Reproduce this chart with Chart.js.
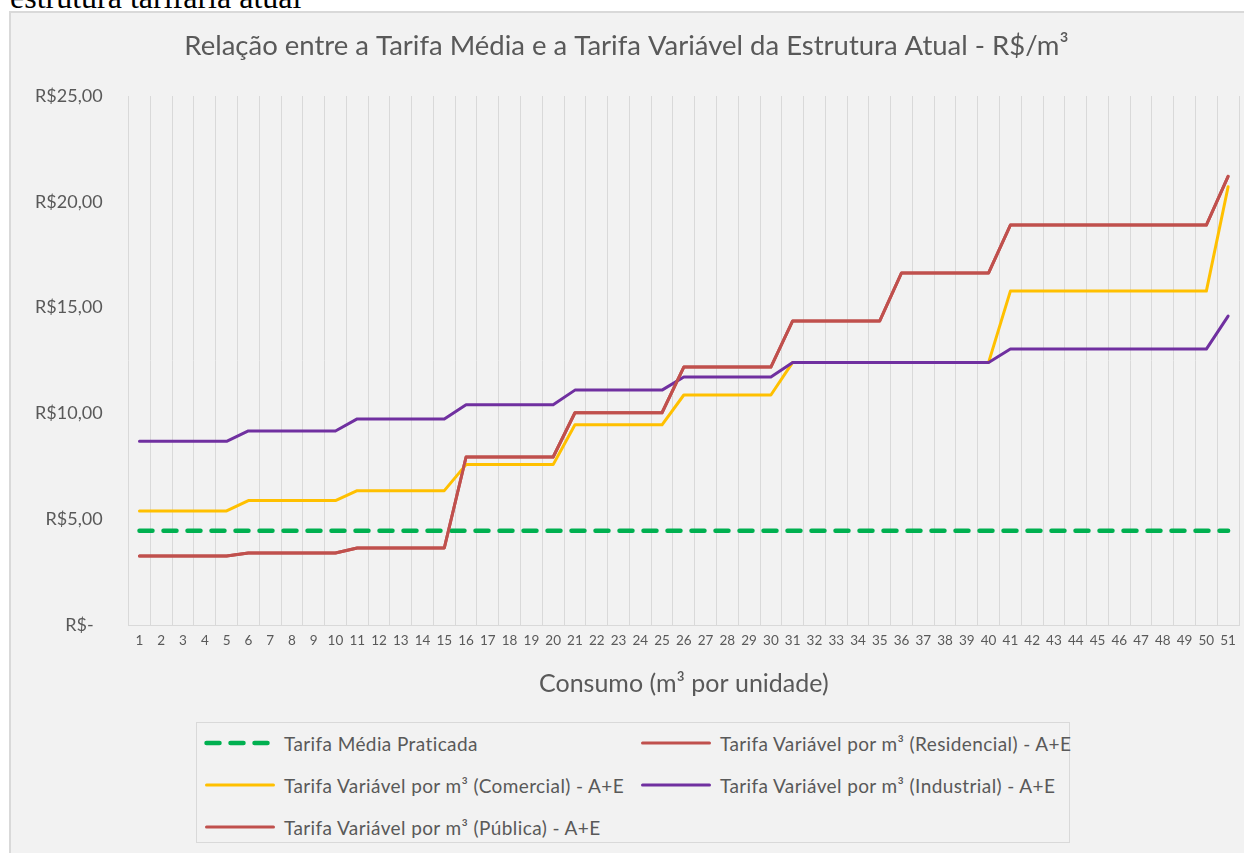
<!DOCTYPE html>
<html>
<head>
<meta charset="utf-8">
<script src="https://cdn.jsdelivr.net/npm/chart.js@4.4.1/dist/chart.umd.min.js"></script>
<style>
  body { margin: 0; background: #ffffff; width: 1244px; height: 853px; overflow: hidden; position: relative; }
  #caption { position: absolute; left: 10px; top: -19px; font-family: "Liberation Serif", serif; font-size: 32px; line-height: 32px; color: #000; white-space: nowrap; }
  #frame { position: absolute; left: 9px; top: 11px; width: 1260px; height: 900px; background: #f2f2f2; border: 2px solid #d9d9d9; box-sizing: border-box; }
  #wrap { position: absolute; left: 0; top: 0; width: 1244px; height: 712px; }
  #legend { position: absolute; left: 196px; top: 722px; width: 874px; height: 121px; border: 1px solid #d9d9d9; box-sizing: border-box; }
  .item { position: absolute; height: 20px; display: flex; align-items: center; font-family: Lato, sans-serif; font-size: 19px; letter-spacing: 0.4px; color: #595959; white-space: nowrap; }
  .item svg { margin-right: 8px; }
</style>
</head>
<body>
<div id="caption">estrutura tarifária atual</div>
<div id="frame"></div>
<div id="wrap"><canvas id="chart"></canvas></div>
<div id="legend"></div>
<script>
const consumo = ['1','2','3','4','5','6','7','8','9','10','11','12','13','14','15','16','17','18','19','20',
  '21','22','23','24','25','26','27','28','29','30','31','32','33','34','35','36','37','38','39','40',
  '41','42','43','44','45','46','47','48','49','50','51'];

const tarifaMedia = [4.46,4.46,4.46,4.46,4.46,4.46,4.46,4.46,4.46,4.46,4.46,4.46,4.46,4.46,4.46,4.46,4.46,
  4.46,4.46,4.46,4.46,4.46,4.46,4.46,4.46,4.46,4.46,4.46,4.46,4.46,4.46,4.46,4.46,4.46,4.46,4.46,4.46,
  4.46,4.46,4.46,4.46,4.46,4.46,4.46,4.46,4.46,4.46,4.46,4.46,4.46,4.46];

const residencial = [3.26,3.26,3.26,3.26,3.26, 3.40,3.40,3.40,3.40,3.40, 3.64,3.64,3.64,3.64,3.64,
  7.94,7.94,7.94,7.94,7.94, 10.03,10.03,10.03,10.03,10.03, 12.19,12.19,12.19,12.19,12.19,
  14.37,14.37,14.37,14.37,14.37, 16.64,16.64,16.64,16.64,16.64,
  18.90,18.90,18.90,18.90,18.90,18.90,18.90,18.90,18.90,18.90, 21.20];

const comercial = [5.39,5.39,5.39,5.39,5.39, 5.88,5.88,5.88,5.88,5.88, 6.35,6.35,6.35,6.35,6.35,
  7.58,7.58,7.58,7.58,7.58, 9.46,9.46,9.46,9.46,9.46, 10.87,10.87,10.87,10.87,10.87,
  12.41,12.41,12.41,12.41,12.41,12.41,12.41,12.41,12.41,12.41,
  15.78,15.78,15.78,15.78,15.78,15.78,15.78,15.78,15.78,15.78, 20.71];

const industrial = [8.68,8.68,8.68,8.68,8.68, 9.17,9.17,9.17,9.17,9.17, 9.74,9.74,9.74,9.74,9.74,
  10.41,10.41,10.41,10.41,10.41, 11.10,11.10,11.10,11.10,11.10, 11.72,11.72,11.72,11.72,11.72,
  12.41,12.41,12.41,12.41,12.41,12.41,12.41,12.41,12.41,12.41,
  13.04,13.04,13.04,13.04,13.04,13.04,13.04,13.04,13.04,13.04, 14.60];

const publica = [3.26,3.26,3.26,3.26,3.26, 3.40,3.40,3.40,3.40,3.40, 3.64,3.64,3.64,3.64,3.64,
  7.94,7.94,7.94,7.94,7.94, 10.03,10.03,10.03,10.03,10.03, 12.19,12.19,12.19,12.19,12.19,
  14.37,14.37,14.37,14.37,14.37, 16.64,16.64,16.64,16.64,16.64,
  18.90,18.90,18.90,18.90,18.90,18.90,18.90,18.90,18.90,18.90, 21.20];

const yTicks = [0, 5, 10, 15, 20, 25];

const textColor = '#595959';

function lineSet(label, data, color, order) {
    return {
        label: label,
        data: data,
        borderColor: color,
        backgroundColor: color,
        borderWidth: 3,
        pointRadius: 0,
        tension: 0,
        borderJoinStyle: 'round',
        borderCapStyle: 'round',
        order: order
    };
}

const mediaSet = lineSet('Tarifa Média Praticada', tarifaMedia, '#00b050', 4);
mediaSet.borderWidth = 4.5;
mediaSet.borderDash = [13, 11];

const datasets = [
    mediaSet,
    lineSet('Tarifa Variável por m³ (Residencial) - A+E', residencial, '#c0504d', 3),
    lineSet('Tarifa Variável por m³ (Comercial) - A+E', comercial, '#ffc000', 2),
    lineSet('Tarifa Variável por m³ (Industrial) - A+E', industrial, '#7030a0', 1),
    lineSet('Tarifa Variável por m³ (Pública) - A+E', publica, '#c0504d', 0)
];

function reais(v) {
    if (v === 0) return 'R$-\u2002';
    return 'R$' + v.toFixed(2).replace('.', ',');
}

const ctx = document.getElementById('chart').getContext('2d');
const chart = new Chart(ctx, {
    type: 'line',
    data: { labels: consumo, datasets: datasets },
    options: {
        responsive: true,
        maintainAspectRatio: false,
        animation: false,
        layout: { padding: { left: 14, right: 5, top: 0, bottom: 0 } },
        plugins: {
            legend: { display: false },
            tooltip: { enabled: false },
            title: {
                display: true,
                text: 'Relação entre a Tarifa Média e a Tarifa Variável da Estrutura Atual - R$/m³',
                color: textColor,
                font: { family: 'Lato', size: 27.5, weight: 'normal' },
                padding: { top: 29.5, bottom: 33.5 }
            }
        },
        scales: {
            x: {
                type: 'category',
                offset: true,
                grid: { display: true, offset: true, color: '#d9d9d9', lineWidth: 1, drawTicks: false },
                border: { display: true, color: '#d9d9d9', width: 1 },
                ticks: {
                    color: textColor, font: { family: 'Lato', size: 13.5 },
                    padding: 8, autoSkip: false, maxRotation: 0
                },
                title: {
                    display: true, text: 'Consumo (m³ por unidade)', color: textColor,
                    font: { family: 'Lato', size: 25 }, padding: { top: 4, bottom: 13 }
                },
                afterFit: function (scale) { scale.height = 87; }
            },
            y: {
                min: 0,
                max: 25,
                grid: { display: false, drawTicks: false },
                border: { display: false },
                afterBuildTicks: function (scale) {
                    scale.ticks = yTicks.map(v => ({ value: v }));
                },
                ticks: {
                    color: textColor, font: { family: 'Lato', size: 18 },
                    padding: 26,
                    callback: function (value) { return reais(value); }
                },
                afterFit: function (scale) { scale.width = 114.6; }
            }
        }
    }
});

// legend built from the chart's own datasets, laid out like the spreadsheet legend
const legendSlots = [
    { left: 7, top: 10 }, { left: 443, top: 10 },
    { left: 7, top: 52 }, { left: 443, top: 52 },
    { left: 7, top: 94 }
];
const legendBox = document.getElementById('legend');
chart.data.datasets.forEach((ds, i) => {
    const item = document.createElement('div');
    item.className = 'item';
    item.style.left = legendSlots[i].left + 'px';
    item.style.top = legendSlots[i].top + 'px';
    const dash = ds.borderDash ? 'stroke-dasharray="13 11"' : '';
    item.innerHTML = '<svg width="72" height="10"><line x1="2.5" y1="5" x2="69.5" y2="5" stroke="' +
        ds.borderColor + '" stroke-width="' + ds.borderWidth + '" stroke-linecap="round" ' + dash +
        '/></svg><span></span>';
    item.querySelector('span').textContent = ds.label;
    legendBox.appendChild(item);
});
</script>
</body>
</html>
